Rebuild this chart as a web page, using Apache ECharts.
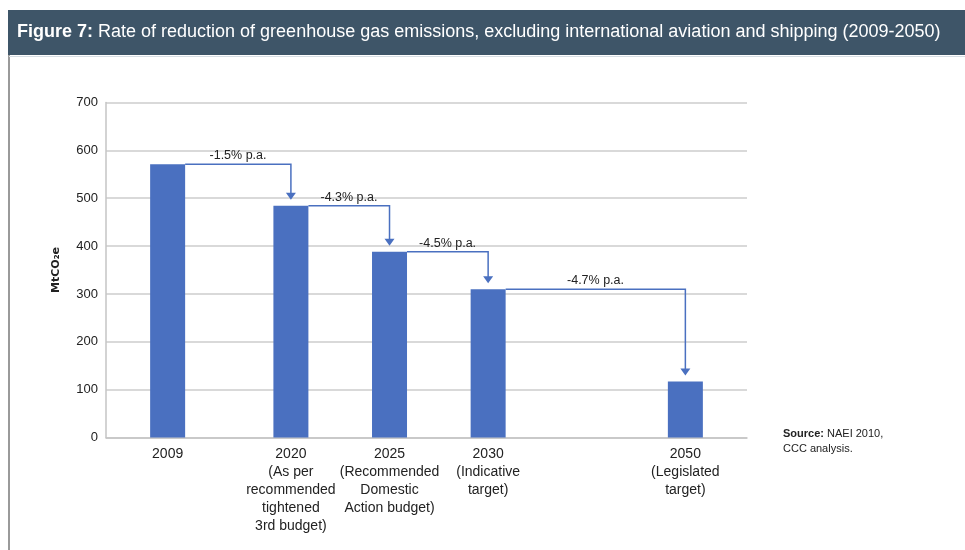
<!DOCTYPE html>
<html>
<head>
<meta charset="utf-8">
<script src="https://cdn.jsdelivr.net/npm/echarts@6/dist/echarts.min.js"></script>
<style>
  html, body { margin: 0; padding: 0; background: #fff; }
  #chart { width: 965px; height: 550px; }
</style>
</head>
<body>
<div id="chart"></div>
<script>
// data
var years = ['2009', '2020', '2025', '2030', '2050']
var notes = [
  '',
  '(As per\nrecommended\ntightened\n3rd budget)',
  '(Recommended\nDomestic\nAction budget)',
  '(Indicative\ntarget)',
  '(Legislated\ntarget)'
]
var emissions = [571, 484, 388, 310, 117] // MtCO2e
var rates = ['-1.5% p.a.', '-4.3% p.a.', '-4.5% p.a.', '-4.7% p.a.']
var yTicks = [0, 100, 200, 300, 400, 500, 600, 700]

// layout: the original spaces the bars unevenly, so bars sit in slots of a finer axis
var slotCount = 26
var slotOf = [2, 7, 11, 15, 23]

var BLUE = '#4a70c0'
var FONT = 'Liberation Sans, Arial, sans-serif'

var cats = []
var barData = []
for (var i = 0; i < slotCount; i++) {
  cats.push('')
  barData.push(null)
}
slotOf.forEach(function (s, k) {
  cats[s] = notes[k] ? years[k] + '\n' + notes[k] : years[k]
  barData[s] = emissions[k]
})

var steps = []
for (var k = 0; k < rates.length; k++) {
  steps.push([slotOf[k], emissions[k], slotOf[k + 1], emissions[k + 1], k])
}

var chartDom = document.getElementById('chart')
var myChart = echarts.init(chartDom)

var option = {
  backgroundColor: '#fff',
  animation: false,
  title: {
    text: '{b|Figure 7:} Rate of reduction of greenhouse gas emissions, excluding international aviation and shipping (2009-2050)',
    left: 17,
    top: 23,
    padding: 0,
    textStyle: {
      color: '#fff',
      fontFamily: FONT,
      fontSize: 18,
      fontWeight: 'normal',
      rich: {
        b: { color: '#fff', fontFamily: FONT, fontSize: 18, fontWeight: 'bold' }
      }
    }
  },
  graphic: [
    {
      type: 'rect',
      z: -1,
      shape: { x: 8, y: 10, width: 957, height: 45 },
      style: { fill: '#3e5568' }
    },
    {
      type: 'line',
      shape: { x1: 9, y1: 55, x2: 9, y2: 550 },
      style: { stroke: '#9a9a9a', lineWidth: 2 }
    },
    {
      type: 'line',
      shape: { x1: 9, y1: 56.5, x2: 965, y2: 56.5 },
      style: { stroke: '#d6dde3', lineWidth: 1 }
    },
    {
      type: 'text',
      left: 783,
      top: 426,
      style: {
        text: '{b|Source:} NAEI 2010,\nCCC analysis.',
        fill: '#222',
        font: '11px ' + FONT,
        lineHeight: 15,
        rich: {
          b: { fontWeight: 'bold', fontSize: 11, fontFamily: FONT, fill: '#222' }
        }
      }
    }
  ],
  grid: {
    left: 106,
    right: 218,
    top: 102.5,
    bottom: 112.5
  },
  xAxis: {
    type: 'category',
    data: cats,
    axisTick: { show: false },
    axisLine: { lineStyle: { color: '#c4c4c4', width: 1.5 } },
    axisLabel: {
      interval: 0,
      margin: 8,
      color: '#222',
      fontFamily: FONT,
      fontSize: 14,
      lineHeight: 18
    }
  },
  yAxis: {
    type: 'value',
    min: yTicks[0],
    max: yTicks[yTicks.length - 1],
    interval: 100,
    name: 'MtCO\u2082e',
    nameLocation: 'middle',
    nameRotate: 90,
    nameGap: 44,
    nameTextStyle: {
      color: '#222',
      fontFamily: 'DejaVu Sans, ' + FONT,
      fontSize: 11,
      fontWeight: 'bold'
    },
    axisLine: { show: true, lineStyle: { color: '#c4c4c4', width: 1.5 } },
    axisTick: { show: false },
    axisLabel: {
      margin: 8,
      color: '#222',
      fontFamily: FONT,
      fontSize: 13
    },
    splitLine: { lineStyle: { color: '#cdcdcd', width: 1.5 } }
  },
  series: [
    {
      type: 'bar',
      data: barData,
      barWidth: 35,
      itemStyle: { color: BLUE }
    },
    {
      // step connectors with the annual reduction rate
      type: 'custom',
      data: steps,
      encode: { x: [0, 2], y: [1, 3] },
      clip: false,
      z: 5,
      renderItem: function (params, api) {
        var from = api.coord([api.value(0), api.value(1)])
        var to = api.coord([api.value(2), api.value(3)])
        var x0 = from[0] + 17.5
        var y0 = from[1]
        var x1 = to[0]
        var tip = to[1] - 6
        var head = 7
        return {
          type: 'group',
          children: [
            {
              type: 'polyline',
              shape: { points: [[x0, y0], [x1, y0], [x1, tip - head + 1]] },
              style: { stroke: BLUE, lineWidth: 1.5, fill: null }
            },
            {
              type: 'polygon',
              shape: { points: [[x1 - 5, tip - head], [x1 + 5, tip - head], [x1, tip]] },
              style: { fill: BLUE }
            },
            {
              type: 'text',
              x: (x0 + x1) / 2,
              y: y0 - 2,
              style: {
                text: rates[api.value(4)],
                fill: '#222',
                font: '12.5px ' + FONT,
                align: 'center',
                verticalAlign: 'bottom'
              }
            }
          ]
        }
      }
    }
  ]
}

option && myChart.setOption(option)
</script>
</body>
</html>
